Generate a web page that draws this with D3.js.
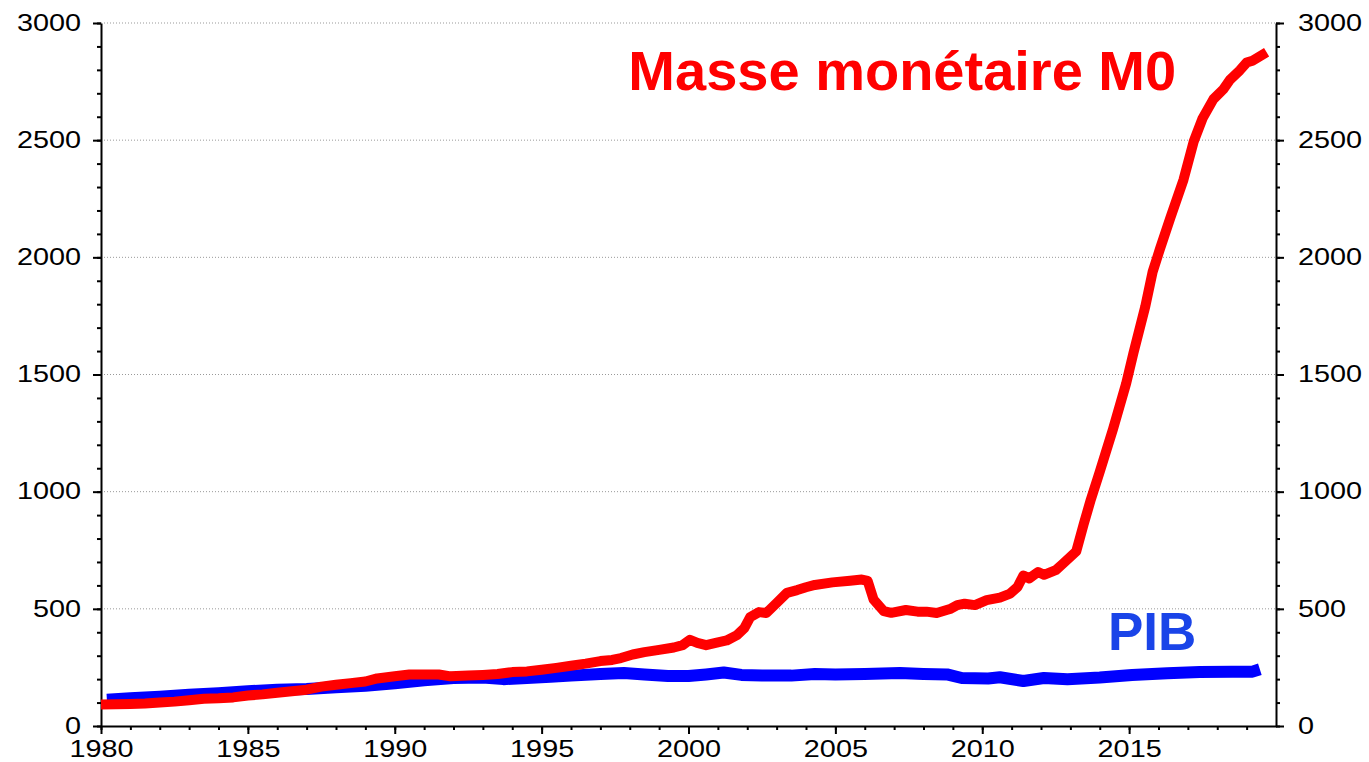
<!DOCTYPE html>
<html lang="fr">
<head>
    <meta charset="UTF-8">
    <title>Masse monétaire M0 et PIB</title>
    <style>
        body {
            margin: 0;
            background-color: #fff;
            font-family: "Liberation Sans", Arial, sans-serif;
        }
        .grid line {
            stroke: #999;
            stroke-width: 1;
            stroke-dasharray: 1, 2;
        }
        .axis path, .axis line {
            stroke: #000;
            stroke-width: 2;
        }
        .axis text {
            font-family: "Liberation Sans", Arial, sans-serif;
            font-size: 24px;
            fill: #000;
        }
    </style>
</head>
<body>
    <svg id="chart" width="1369" height="762"></svg>
    <script src="https://d3js.org/d3.v7.min.js"></script>
    <script>
        // Masse monétaire M0 (year, value)
        const m0Years = [1980.0, 1980.5, 1981.0, 1981.5, 1982.0, 1982.5, 1983.0, 1983.5, 1984.0, 1984.5,
            1985.0, 1985.5, 1986.0, 1986.5, 1987.0, 1987.5, 1988.0, 1988.5, 1989.0, 1989.4,
            1990.0, 1990.5, 1991.0, 1991.5, 1991.9, 1992.5, 1993.0, 1993.5, 1994.0, 1994.5,
            1995.0, 1995.5, 1996.0, 1996.5, 1997.0, 1997.4, 1997.7, 1998.1, 1998.5, 1999.0,
            1999.5, 1999.8, 2000.05, 2000.3, 2000.6, 2001.0, 2001.3, 2001.65, 2001.9, 2002.1,
            2002.4, 2002.65, 2003.0, 2003.35, 2003.7, 2004.0, 2004.3, 2004.9, 2005.5, 2005.9,
            2006.1, 2006.3, 2006.65, 2006.9, 2007.4, 2007.8, 2008.1, 2008.45, 2008.9, 2009.15,
            2009.4, 2009.75, 2010.15, 2010.6, 2010.95, 2011.2, 2011.4, 2011.6, 2011.9, 2012.1,
            2012.5, 2012.75, 2013.2, 2013.45, 2013.7, 2014.0, 2014.45, 2014.9, 2015.15, 2015.55,
            2015.8, 2016.05, 2016.4, 2016.85, 2017.2, 2017.5, 2017.87, 2018.2, 2018.43, 2018.77,
            2019.0, 2019.2, 2019.68];
        const m0Values = [92, 93, 94, 96, 100, 104, 110, 116, 118, 122,
            130, 135, 142, 148, 155, 168, 176, 183, 190, 203,
            212, 220, 220, 220, 212, 215, 218, 222, 230, 233,
            240, 248, 257, 266, 277, 282, 290, 305, 315, 325,
            335, 345, 368, 355, 345, 357, 365, 388, 418, 465,
            486, 482, 525, 568, 580, 592, 602, 613, 620, 625,
            619, 540, 490, 483, 495, 488, 488, 482, 499, 516,
            522, 516, 537, 548, 565, 593, 642, 630, 657, 645,
            665, 693, 745, 860, 968, 1085, 1266, 1462, 1593, 1790,
            1938, 2036, 2167, 2331, 2495, 2593, 2675, 2716, 2757, 2798,
            2831, 2839, 2875];

        // PIB (year, value)
        const pibYears = [1980.2, 1981.0, 1982.0, 1983.0, 1984.0, 1985.0, 1986.0, 1987.0, 1988.0, 1989.0,
            1990.0, 1991.0, 1992.0, 1993.0, 1993.7, 1994.5, 1995.3, 1996.0, 1997.0, 1997.8,
            1998.5, 1999.3, 2000.0, 2000.6, 2001.2, 2001.8, 2002.5, 2003.5, 2004.3, 2005.0,
            2006.0, 2007.2, 2008.0, 2008.8, 2009.3, 2010.2, 2010.6, 2011.4, 2012.1, 2012.9,
            2014.0, 2015.1, 2016.3, 2017.4, 2018.5, 2019.2, 2019.45];
        const pibValues = [112, 118, 125, 133, 140, 148, 155, 158, 165, 172,
            182, 195, 205, 207, 200, 205, 210, 215, 222, 226,
            220, 213, 213, 220, 228, 218, 215, 215, 222, 220,
            222, 226, 222, 220, 205, 203, 208, 192, 205, 200,
            207, 218, 225, 230, 232, 232, 242];

        const yearLabels = [1980, 1985, 1990, 1995, 2000, 2005, 2010, 2015];
        const valueTicks = [0, 500, 1000, 1500, 2000, 2500, 3000];

        const svg = d3.select("#chart");
        const margin = {top: 23, right: 93, bottom: 36, left: 101};
        const width = +svg.attr("width") - margin.left - margin.right;
        const height = +svg.attr("height") - margin.top - margin.bottom;

        const g = svg.append("g").attr("transform", `translate(${margin.left},${margin.top})`);

        const x = d3.scaleLinear().domain([1980, 2020]).range([0, width]);
        const y = d3.scaleLinear().domain([0, 3000]).range([height, 0]);
        const fmt = d3.format("d");

        // dotted grid
        g.append("g")
            .attr("class", "grid")
            .selectAll("line")
            .data(valueTicks.filter(v => v > 0))
            .enter().append("line")
            .attr("x1", 0)
            .attr("x2", width)
            .attr("y1", d => y(d))
            .attr("y2", d => y(d));

        const minorValues = d3.range(0, 3001, 100);
        const minorYears = d3.range(1980, 2020, 1);

        // left axis
        g.append("g").attr("class", "axis")
            .call(d3.axisLeft(y).tickValues(minorValues).tickSize(4).tickFormat(""))
            .select(".domain").remove();
        const left = g.append("g").attr("class", "axis")
            .call(d3.axisLeft(y).tickValues(valueTicks).tickSize(8).tickSizeOuter(0).tickFormat(fmt));
        left.selectAll("text")
            .attr("x", -20 / 1.2)
            .attr("dy", "0.3em")
            .attr("transform", "scale(1.2,1)");

        // right axis
        const right = g.append("g").attr("class", "axis").attr("transform", `translate(${width},0)`);
        right.append("g")
            .call(d3.axisRight(y).tickValues(minorValues).tickSize(4).tickFormat(""))
            .select(".domain").remove();
        const rightMajor = right.append("g")
            .call(d3.axisRight(y).tickValues(valueTicks).tickSize(8).tickSizeOuter(0).tickFormat(fmt));
        rightMajor.selectAll("text")
            .attr("x", 22 / 1.2)
            .attr("dy", "0.3em")
            .attr("transform", "scale(1.2,1)");

        // bottom axis
        const bottom = g.append("g").attr("class", "axis").attr("transform", `translate(0,${height})`);
        bottom.append("g")
            .call(d3.axisBottom(x).tickValues(minorYears).tickSize(4).tickFormat(""))
            .select(".domain").remove();
        const bottomMajor = bottom.append("g")
            .call(d3.axisBottom(x).tickValues(yearLabels).tickSize(8).tickSizeOuter(0).tickFormat(fmt));
        bottomMajor.selectAll("text")
            .attr("y", 14)
            .attr("transform", "scale(1.2,1)");

        const line = d3.line()
            .x(d => x(d[0]))
            .y(d => y(d[1]));

        const pib = pibYears.map((yr, i) => [yr, pibValues[i]]);
        const m0 = m0Years.map((yr, i) => [yr, m0Values[i]]);

        g.append("path")
            .datum(pib)
            .attr("fill", "none")
            .attr("stroke", "#0000ff")
            .attr("stroke-width", 12)
            .attr("stroke-linejoin", "round")
            .attr("d", line);

        g.append("path")
            .datum(m0)
            .attr("fill", "none")
            .attr("stroke", "#ff0000")
            .attr("stroke-width", 10)
            .attr("stroke-linejoin", "round")
            .attr("d", line);

        // series labels
        g.append("text")
            .attr("x", x(2016.6))
            .attr("y", y(2714))
            .attr("text-anchor", "end")
            .attr("font-size", 56)
            .attr("font-weight", "bold")
            .attr("fill", "#ff0000")
            .text("Masse monétaire M0");

        g.append("text")
            .attr("x", x(2014.28))
            .attr("y", y(324))
            .attr("font-size", 53)
            .attr("font-weight", "bold")
            .attr("fill", "#1a44e8")
            .text("PIB");
    </script>
</body>
</html>
